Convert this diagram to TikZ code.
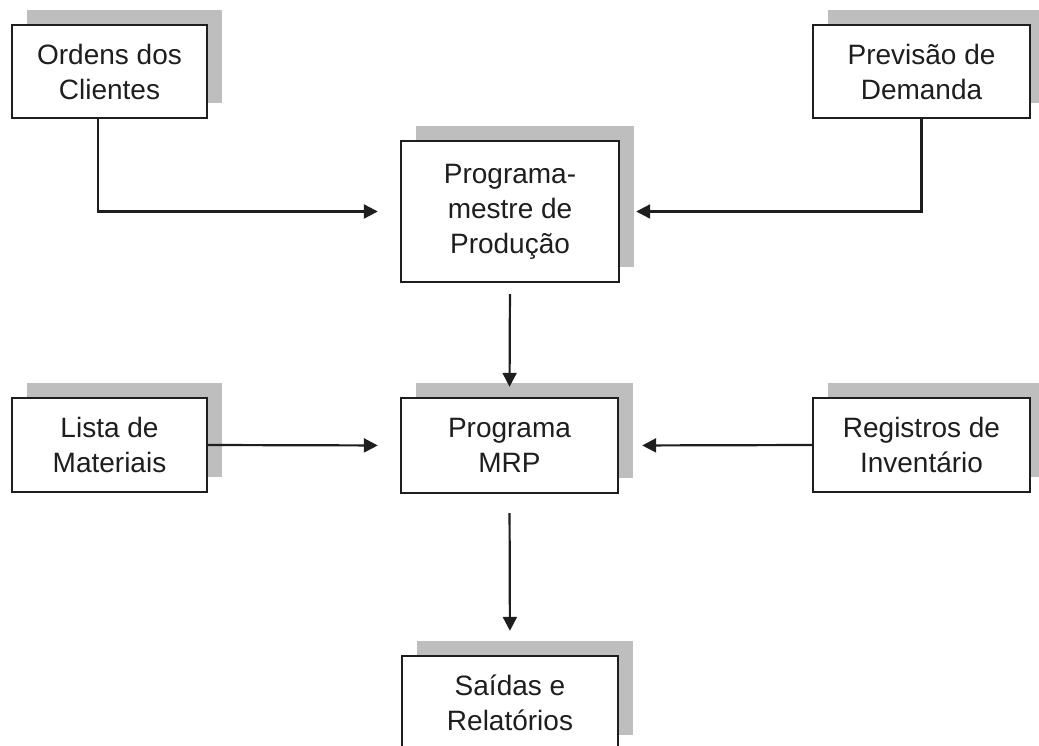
\documentclass[tikz,border=0pt]{standalone}
\usepackage{fontspec}
\setmainfont{Liberation Sans}
\usetikzlibrary{shadows,arrows.meta}
\definecolor{shadowgray}{RGB}{190,190,190}
\definecolor{inkgray}{RGB}{30,30,30}
\begin{document}
\begin{tikzpicture}[x=1pt,y=-1pt,
  box/.style={draw=inkgray, line width=2.4pt, fill=white, rectangle, inner sep=0pt,
    align=center, font=\fontsize{28}{35}\selectfont, text=inkgray,
    general shadow={fill=shadowgray, shadow xshift=15pt, shadow yshift=15pt}},
  arr/.style={draw=inkgray, line width=2.2pt, -{Triangle[length=14pt,width=14pt]}}]
\clip (0,0) rectangle (1039,745);
\fill[white] (0,0) rectangle (1039,745);
\node[box, minimum width=195pt, minimum height=93pt] (A) at (109.5,71.5) {Ordens dos\\Clientes};
\node[box, minimum width=217pt, minimum height=93pt] (B) at (921.5,71.5) {Previsão de\\Demanda};
\node[box, minimum width=218pt, minimum height=141pt] (P) at (510,211.5) {Programa-\\mestre de\\Produção};
\node[box, minimum width=195pt, minimum height=94pt] (L) at (109.5,445) {Lista de\\Materiais};
\node[box, minimum width=217pt, minimum height=95pt] (M) at (509.5,445.5) {Programa\\MRP};
\node[box, minimum width=217pt, minimum height=94pt] (R) at (921.5,445) {Registros de\\Inventário};
\node[box, minimum width=216pt, minimum height=94pt] (S) at (510,703) {Saídas e\\Relatórios};
\coordinate (j1) at (98,212);
\draw[arr, shorten >=22pt] (A.south -| j1) |- (P.west);
\draw[arr, shorten >=16pt] (B.south) |- (P.east);
\draw[arr, shorten <=11pt, shorten >=10pt] (P.south) -- (M.north);
\draw[arr, shorten >=22pt] (L.east) -- (M.west);
\draw[arr, shorten >=23pt] (R.west) -- (M.east);
\draw[arr, shorten <=19pt, shorten >=24pt] (M.south) -- (S.north);
\end{tikzpicture}
\end{document}
